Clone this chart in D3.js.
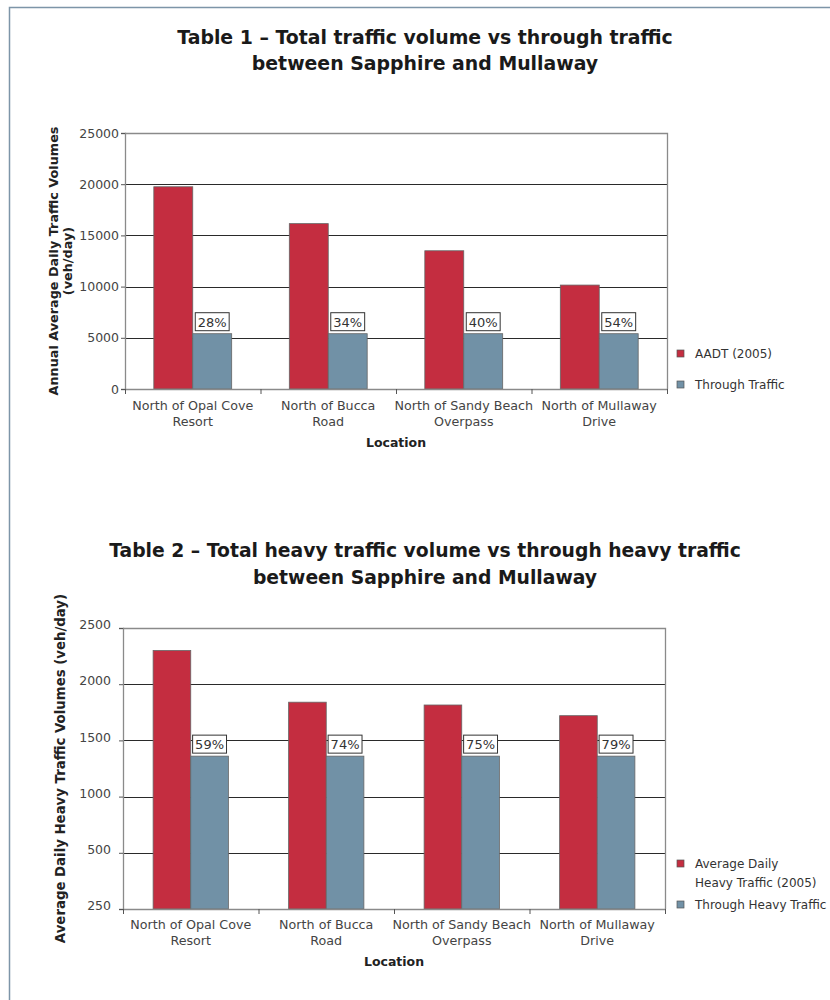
<!DOCTYPE html>
<html><head><meta charset="utf-8">
<script src="https://cdn.jsdelivr.net/npm/d3@7"></script>
<style>body{margin:0;background:#fff} svg{display:block} text{font-family:Verdana,"DejaVu Sans",sans-serif}</style>
</head><body><svg id="c" width="830" height="1000"></svg>
<script>
// ---- Data ----
const locations = [
  ["North of Opal Cove", "Resort"],
  ["North of Bucca", "Road"],
  ["North of Sandy Beach", "Overpass"],
  ["North of Mullaway", "Drive"]
];
// Table 1
const title1 = ["Table 1 \u2013 Total traffic volume vs through traffic", "between Sapphire and Mullaway"];
const yTitle1 = ["Annual Average Daily Traffic Volumes", "(veh/day)"];
const series1Names = [["AADT (2005)"], ["Through Traffic"]];
const aadt2005 = [19750, 16150, 13500, 10150];
const throughTraffic = [5400, 5400, 5400, 5400];
const throughPct1 = ["28%", "34%", "40%", "54%"];
const ticks1 = [0, 5000, 10000, 15000, 20000, 25000];
const tickLabels1 = ["0", "5000", "10000", "15000", "20000", "25000"];
// Table 2
const title2 = ["Table 2 \u2013 Total heavy traffic volume vs through heavy traffic", "between Sapphire and Mullaway"];
const yTitle2 = ["Average Daily Heavy Traffic Volumes (veh/day)"];
const series2Names = [["Average Daily", "Heavy Traffic (2005)"], ["Through Heavy Traffic"]];
const heavy2005 = [2300, 1840, 1815, 1720];
const throughHeavy = [1360, 1360, 1360, 1360];
const throughPct2 = ["59%", "74%", "75%", "79%"];
const ticks2 = [0, 500, 1000, 1500, 2000, 2500];
const tickLabels2 = ["250", "500", "1000", "1500", "2000", "2500"];
const xTitle = "Location";

const RED = "#c42d40", BLUE = "#7191a6";
const svg = d3.select("#c");

// page border
svg.append("path").attr("d", "M9.5,1000 V7.5 H830").attr("fill", "none").attr("stroke", "#7d95a8").attr("stroke-width", 1.5);

function drawTitle(lines, y0, y1, targetW) {
  const sz0 = 18;
  const t = svg.append("text").attr("x", 425).attr("y", y0).attr("text-anchor", "middle")
    .attr("font-weight", "bold").attr("font-size", sz0).attr("fill", "#1a1a1a").text(lines[0]);
  const sz = sz0 * targetW / t.node().getComputedTextLength();
  t.attr("font-size", sz);
  svg.append("text").attr("x", 425).attr("y", y1).attr("text-anchor", "middle")
    .attr("font-weight", "bold").attr("font-size", sz).attr("fill", "#1a1a1a").text(lines[1]);
}

function drawChart(c) {
  const g = svg.append("g");
  const y = d3.scaleLinear().domain([c.ticks[0], c.ticks[c.ticks.length - 1]]).range([c.y1, c.y0]);
  const x = d3.scaleBand().domain(d3.range(locations.length)).range([c.x0, c.x1]).padding(0);
  const xs = d3.scaleBand().domain([0, 1]).range([0, x.bandwidth()]).paddingInner(0).paddingOuter(c.po);

  // gridlines
  g.selectAll(".grid").data(c.ticks.slice(1, -1)).enter().append("line")
    .attr("x1", c.x0).attr("x2", c.x1).attr("y1", d => Math.round(y(d)) + 0.5).attr("y2", d => Math.round(y(d)) + 0.5)
    .attr("stroke", "#2a2a2a").attr("stroke-width", 1);
  // frame: top & right
  g.append("path").attr("d", `M${c.x0},${Math.round(c.y0) + 0.5} H${c.x1 + 0.5} V${c.y1}`)
    .attr("fill", "none").attr("stroke", "#8a8a8a").attr("stroke-width", 1.3);

  // bars
  const vals = [c.a, c.b];
  const cols = [RED, BLUE];
  [0, 1].forEach(s => {
    g.selectAll(".bar" + s).data(vals[s]).enter().append("rect")
      .attr("x", (d, i) => x(i) + xs(s)).attr("width", xs.bandwidth())
      .attr("y", d => y(d)).attr("height", d => y(c.ticks[0]) - y(d))
      .attr("fill", cols[s]).attr("stroke", "#666").attr("stroke-width", 0.8);
  });

  // percent labels
  c.pct.forEach((p, i) => {
    const cx = x(i) + xs(1) + xs.bandwidth() / 2;
    const by = y(c.b[i]) - 3;
    const t = g.append("text").attr("x", cx).attr("y", by - 4).attr("text-anchor", "middle")
      .attr("font-size", 13).attr("fill", "#333").text(p);
    const w = t.node().getComputedTextLength() + 5;
    g.insert("rect", () => t.node()).attr("x", cx - w / 2).attr("y", by - 18).attr("width", w).attr("height", 18)
      .attr("fill", "#fff").attr("stroke", "#333").attr("stroke-width", 1);
  });

  // y axis
  const yAxis = d3.axisLeft(y).tickValues(c.ticks).tickSize(4).tickPadding(2)
    .tickFormat((d, i) => c.tickLabels[i]);
  const ya = g.append("g").attr("transform", `translate(${c.x0},0)`).call(yAxis);
  ya.select(".domain").attr("stroke", "#8a8a8a").attr("stroke-width", 1.3);
  ya.selectAll(".tick line").attr("stroke", "#555");
  ya.selectAll(".tick text").attr("font-size", 12.5).attr("fill", "#444")
    .attr("font-family", "Verdana, 'DejaVu Sans', sans-serif").attr("dx", c.labelDx).attr("dy", c.labelDy);

  // x axis
  g.append("line").attr("x1", c.x0).attr("x2", c.x1 + 0.5).attr("y1", c.y1 + 0.5).attr("y2", c.y1 + 0.5)
    .attr("stroke", "#8a8a8a").attr("stroke-width", 1.3);
  g.selectAll(".xt").data(d3.range(locations.length + 1)).enter().append("line")
    .attr("x1", i => (i < locations.length ? x(i) : c.x1) + 0.5).attr("x2", i => (i < locations.length ? x(i) : c.x1) + 0.5)
    .attr("y1", c.y1).attr("y2", c.y1 + 5).attr("stroke", "#555");
  locations.forEach((lines, i) => {
    lines.forEach((ln, k) => {
      g.append("text").attr("x", x(i) + x.bandwidth() / 2).attr("y", c.xl[k]).attr("text-anchor", "middle")
        .attr("font-size", 12.7).attr("fill", "#444").text(ln);
    });
  });
  g.append("text").attr("x", (c.x0 + c.x1) / 2).attr("y", c.xTitleY).attr("text-anchor", "middle")
    .attr("font-size", 12.5).attr("font-weight", "bold").attr("fill", "#222").text(xTitle);

  // y title
  const yt = g.append("g").attr("transform", `translate(${c.ytx},${(c.y0 + c.y1) / 2}) rotate(-90)`);
  c.yTitle.forEach((ln, k) => {
    yt.append("text").attr("x", 0).attr("y", k * 14).attr("text-anchor", "middle")
      .attr("font-size", c.ytSize).attr("font-weight", "bold").attr("fill", "#222").text(ln);
  });

  // legend
  c.legend.forEach((it, s) => {
    g.append("rect").attr("x", 677).attr("y", it.y - 4).attr("width", 7).attr("height", 7)
      .attr("fill", cols[s]).attr("stroke", "#555").attr("stroke-width", 0.7);
    it.lines.forEach((ln, k) => {
      g.append("text").attr("x", 695).attr("y", it.y + 4 + k * 19).attr("font-size", 12).attr("fill", "#333").text(ln);
    });
  });
}

drawTitle(title1, 44, 70, 496);
drawChart({
  x0: 125, x1: 667, y0: 133, y1: 389, po: 0.74,
  a: aadt2005, b: throughTraffic, pct: throughPct1,
  ticks: ticks1, tickLabels: tickLabels1, labelDx: 0, labelDy: "0.32em",
  xl: [410, 426], xTitleY: 447, ytx: 58, ytSize: 12.8, yTitle: yTitle1,
  legend: [{ y: 354, lines: series1Names[0] }, { y: 385, lines: series1Names[1] }]
});

drawTitle(title2, 557, 584, 632);
drawChart({
  x0: 123, x1: 665, y0: 628, y1: 909, po: 0.8,
  a: heavy2005, b: throughHeavy, pct: throughPct2,
  ticks: ticks2, tickLabels: tickLabels2, labelDx: -6, labelDy: "0.05em",
  xl: [929, 945], xTitleY: 966, ytx: 65, ytSize: 13.3, yTitle: yTitle2,
  legend: [{ y: 864, lines: series2Names[0] }, { y: 905, lines: series2Names[1] }]
});
</script></body></html>
